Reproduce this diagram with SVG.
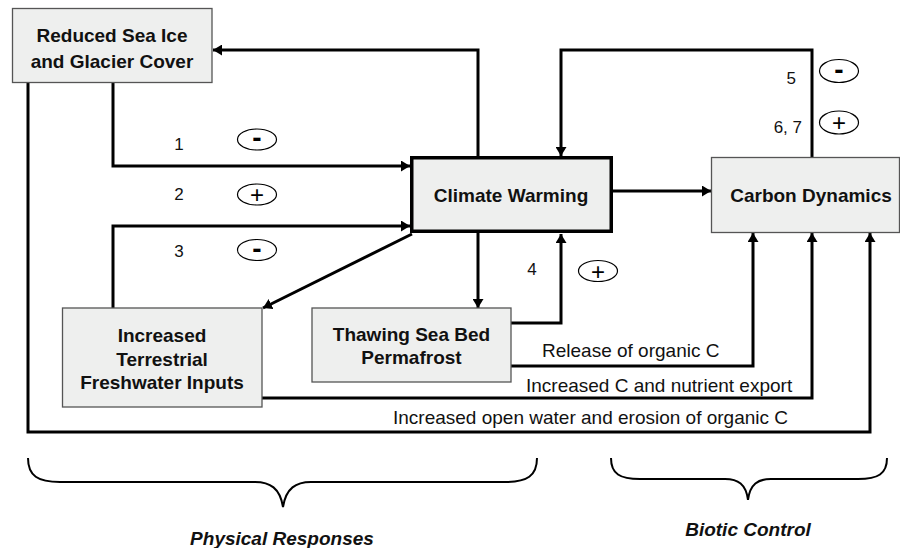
<svg xmlns="http://www.w3.org/2000/svg" width="900" height="548" viewBox="0 0 900 548">
<style>
  .box { fill: #eeefee; stroke: #555; stroke-width: 1.3; }
  .main { fill: #eeefee; stroke: #000; stroke-width: 3.5; }
  .nt { font-family: "Liberation Sans", Arial, sans-serif; font-weight: bold; font-size: 19px; fill: #111; text-anchor: middle; }
  .lbl { font-family: "Liberation Sans", Arial, sans-serif; font-size: 19px; fill: #111; }
  .num { font-family: "Liberation Sans", Arial, sans-serif; font-size: 17px; fill: #111; }
  .conn path { fill: none; stroke: #000; stroke-width: 3; marker-end: url(#ah); }
  .sign ellipse { fill: #fff; stroke: #000; stroke-width: 1.2; }
  .minus { font-family: "Liberation Sans", Arial, sans-serif; font-weight: bold; font-size: 28px; text-anchor: middle; fill: #000; }
  .plus { font-family: "Liberation Sans", Arial, sans-serif; font-size: 24px; text-anchor: middle; fill: #000; }
  .brace { fill: none; stroke: #000; stroke-width: 2; }
  .grp { font-family: "Liberation Sans", Arial, sans-serif; font-weight: bold; font-style: italic; font-size: 19px; fill: #111; text-anchor: middle; }
</style>
<defs>
  <marker id="ah" viewBox="0 0 9 11" refX="9" refY="5.5" markerWidth="9" markerHeight="11" markerUnits="userSpaceOnUse" orient="auto">
    <path d="M0,0 L9,5.5 L0,11 z" fill="#000"/>
  </marker>
</defs>

<g id="connectors" class="conn">
  <path d="M478,156 V50 H213"/>
  <path d="M812,157 V50 H561 V156"/>
  <path d="M113,83 V166 H410"/>
  <path d="M113,308 V226 H410"/>
  <path d="M412,234 L263,308"/>
  <path d="M613,191 H711"/>
  <path d="M478,233 V308"/>
  <path d="M511,323 H561 V234"/>
  <path d="M511,366 H753 V233"/>
  <path d="M262,398 H812 V233"/>
  <path d="M28,83 V432 H870 V233"/>
</g>

<g id="node-seaice">
  <rect class="box" x="12.5" y="8.5" width="199.5" height="74"/>
  <text class="nt" x="112" y="42">Reduced Sea Ice</text>
  <text class="nt" x="112" y="68">and Glacier Cover</text>
</g>

<g id="node-climate">
  <rect class="main" x="411.75" y="157.75" width="199.5" height="73.5"/>
  <text class="nt" x="511" y="202">Climate Warming</text>
</g>

<g id="node-carbon">
  <rect class="box" x="711.5" y="157.5" width="188" height="75"/>
  <text class="nt" x="811" y="202">Carbon Dynamics</text>
</g>

<g id="node-freshwater">
  <rect class="box" x="62.5" y="308" width="199.5" height="99"/>
  <text class="nt" x="162" y="342">Increased</text>
  <text class="nt" x="162" y="366">Terrestrial</text>
  <text class="nt" x="162" y="389">Freshwater Inputs</text>
</g>

<g id="node-permafrost">
  <rect class="box" x="312" y="308" width="199" height="74"/>
  <text class="nt" x="411.5" y="341">Thawing Sea Bed</text>
  <text class="nt" x="411.5" y="364">Permafrost</text>
</g>

<g id="labels">
  <text class="num" x="179" y="150" text-anchor="middle">1</text>
  <text class="num" x="179" y="200" text-anchor="middle">2</text>
  <text class="num" x="179" y="257" text-anchor="middle">3</text>
  <text class="num" x="532" y="275" text-anchor="middle">4</text>
  <text class="num" x="796" y="84" text-anchor="end">5</text>
  <text class="num" x="802" y="133" text-anchor="end">6, 7</text>
  <text class="lbl" x="542" y="357">Release of organic C</text>
  <text class="lbl" x="526" y="392">Increased C and nutrient export</text>
  <text class="lbl" x="393" y="424">Increased open water and erosion of organic C</text>
</g>

<g id="signs" class="sign">
  <ellipse cx="257" cy="139.5" rx="19.5" ry="10.5"/>
  <text class="minus" x="257" y="147">-</text>
  <ellipse cx="257" cy="194.5" rx="19.5" ry="10.5"/>
  <text class="plus" x="257" y="203">+</text>
  <ellipse cx="257" cy="250" rx="19.5" ry="10.5"/>
  <text class="minus" x="257" y="257.5">-</text>
  <ellipse cx="598" cy="271" rx="19.5" ry="10.5"/>
  <text class="plus" x="598" y="279.5">+</text>
  <ellipse cx="839" cy="71" rx="19.5" ry="11.5"/>
  <text class="minus" x="839" y="78.5">-</text>
  <ellipse cx="839" cy="122.5" rx="19.5" ry="11.5"/>
  <text class="plus" x="839" y="131">+</text>
</g>

<g id="braces">
  <path class="brace" d="M28,458 C28,476 38,482 60,482 H255 C270,482 280,488 283,507 C286,488 296,482 311,482 H505 C527,482 537,476 537,458"/>
  <path class="brace" d="M611,458 C611,474 620,479 640,479 H725 C738,479 746,484 748,500 C750,484 758,479 771,479 H858 C878,479 887,474 887,458"/>
  <text class="grp" x="282" y="545">Physical Responses</text>
  <text class="grp" x="748" y="536">Biotic Control</text>
</g>
</svg>
